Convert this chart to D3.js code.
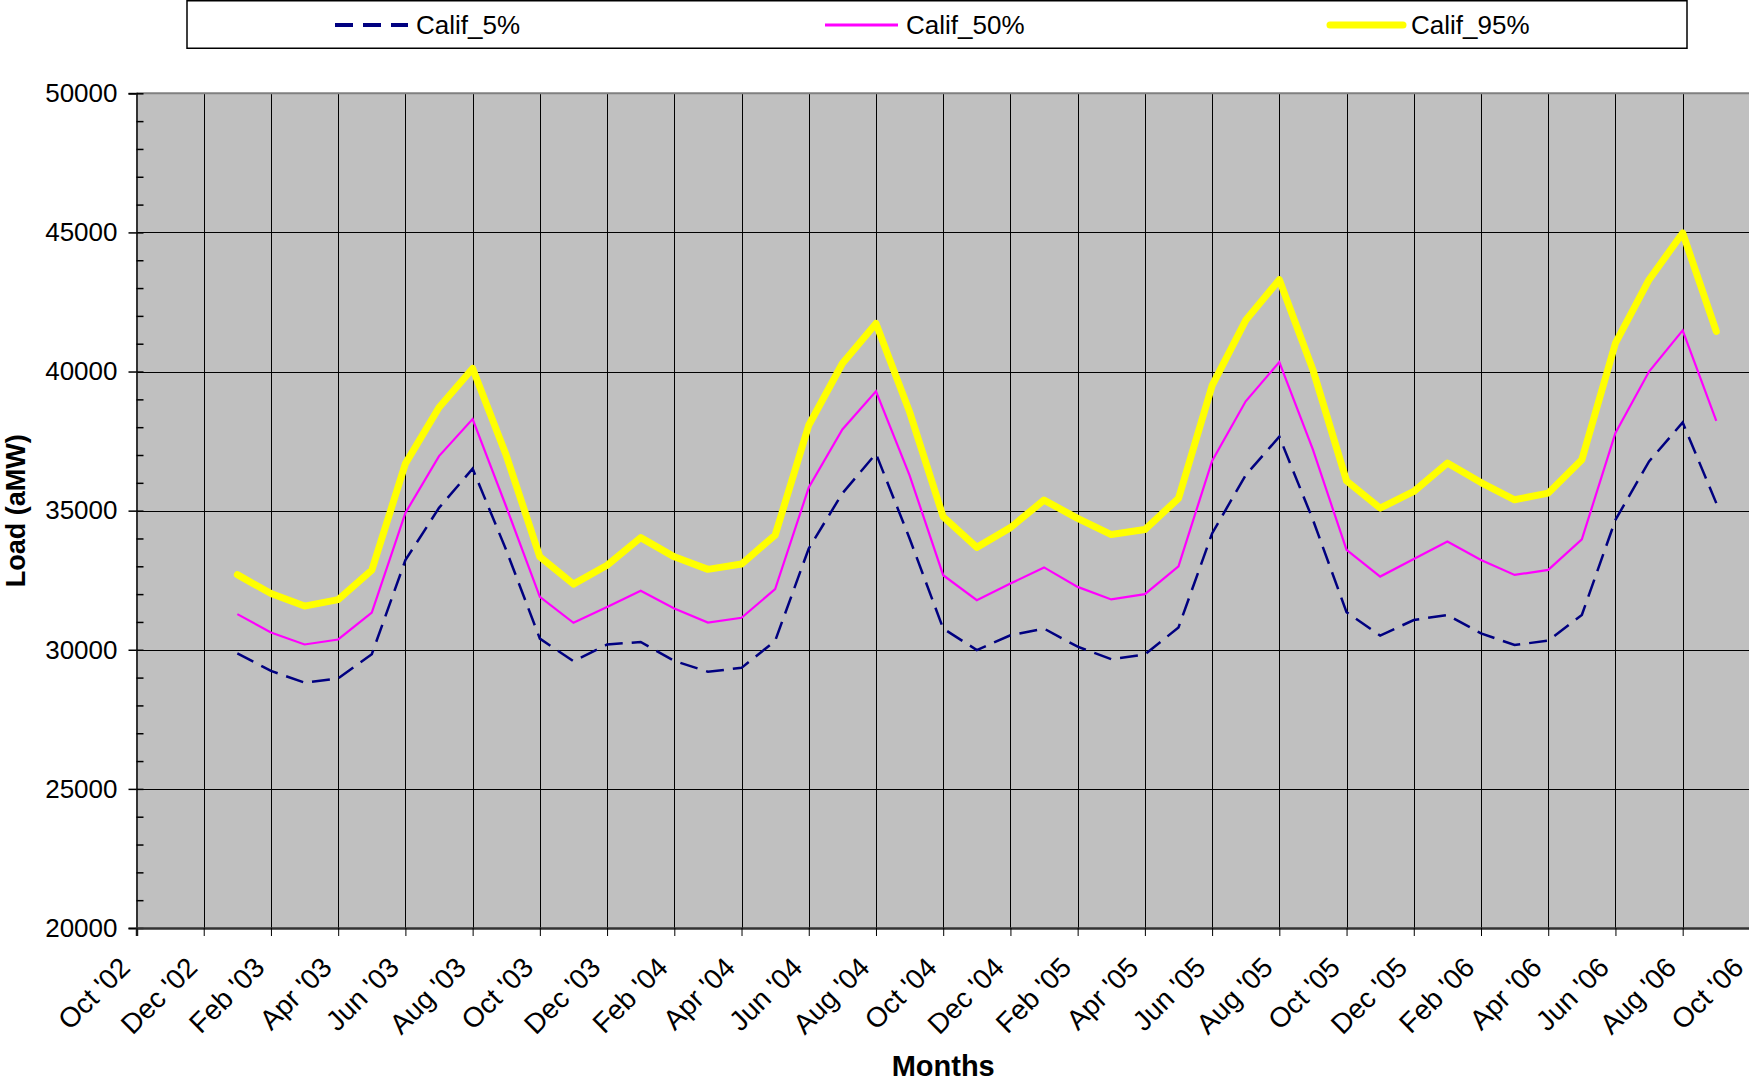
<!DOCTYPE html>
<html lang="en">
<head>
<meta charset="UTF-8">
<title>Calif load percentiles</title>
<script src="https://d3js.org/d3.v7.min.js"></script>
<style>
  body { margin: 0; background: #fff; }
  svg { display: block; font-family: "Liberation Sans", Arial, sans-serif; }
  .tick-label { font-size: 26px; fill: #000; }
  .x-label { font-size: 28px; fill: #000; }
  .axis-title { font-size: 27px; font-weight: bold; }
  .legend-text { font-size: 26px; }
</style>
</head>
<body>
<svg id="chart" width="1749" height="1081"></svg>
<script>
// monthly data, Jan '03 .. Sep '06
const months = [
  "Jan '03","Feb '03","Mar '03","Apr '03","May '03","Jun '03","Jul '03","Aug '03","Sep '03","Oct '03","Nov '03","Dec '03",
  "Jan '04","Feb '04","Mar '04","Apr '04","May '04","Jun '04","Jul '04","Aug '04","Sep '04","Oct '04","Nov '04","Dec '04",
  "Jan '05","Feb '05","Mar '05","Apr '05","May '05","Jun '05","Jul '05","Aug '05","Sep '05","Oct '05","Nov '05","Dec '05",
  "Jan '06","Feb '06","Mar '06","Apr '06","May '06","Jun '06","Jul '06","Aug '06","Sep '06"
];
const calif5 = [
  29870, 29240, 28820, 28970, 29840, 33220, 35100, 36510, 33580, 30400, 29590, 30190,
  30280, 29600, 29210, 29350, 30320, 33640, 35620, 37050, 34000, 30760, 29990, 30520,
  30760, 30110, 29660, 29830, 30800, 34180, 36280, 37660, 34670, 31350, 30510, 31070,
  31250, 30590, 30170, 30330, 31250, 34670, 36770, 38170, 35270
];
const calif50 = [
  31280, 30620, 30190, 30370, 31340, 34920, 36960, 38290, 35140, 31900, 30970, 31540,
  32120, 31480, 30980, 31150, 32180, 35830, 37920, 39290, 36270, 32680, 31780, 32380,
  32960, 32260, 31810, 32000, 33000, 36790, 38930, 40340, 37190, 33590, 32630, 33260,
  33890, 33230, 32690, 32870, 33970, 37790, 40000, 41480, 38230
];
const calif95 = [
  32700, 32020, 31570, 31800, 32860, 36690, 38710, 40110, 36990, 33340, 32360, 33040,
  34030, 33340, 32890, 33080, 34120, 38070, 40290, 41730, 38550, 34780, 33680, 34390,
  35380, 34720, 34140, 34320, 35440, 39490, 41840, 43300, 40060, 36070, 35090, 35690,
  36710, 36010, 35390, 35630, 36830, 41020, 43300, 44980, 41440
];
const tickLabels = [
  "Oct '02","Dec '02","Feb '03","Apr '03","Jun '03","Aug '03","Oct '03","Dec '03","Feb '04",
  "Apr '04","Jun '04","Aug '04","Oct '04","Dec '04","Feb '05","Apr '05","Jun '05","Aug '05",
  "Oct '05","Dec '05","Feb '06","Apr '06","Jun '06","Aug '06","Oct '06"
];
const yTicks = [20000, 25000, 30000, 35000, 40000, 45000, 50000];
const seriesNames = ["Calif_5%", "Calif_50%", "Calif_95%"];

const plotLeft = 136.5, plotRight = 1749.9, plotTop = 93.3, plotBottom = 928;

const svg = d3.select("#chart");

// every month on the category axis, Oct '02 .. Oct '06
const fmt = d3.timeFormat("%b '%y");
const axisMonths = d3.timeMonth.range(new Date(2002, 9, 1), new Date(2006, 10, 1)).map(fmt);

const x = d3.scalePoint().domain(axisMonths).range([plotLeft, plotRight]);
const y = d3.scaleLinear().domain([20000, 50000]).range([plotBottom, plotTop]);

// plot area
svg.append("rect")
  .attr("x", plotLeft).attr("y", plotTop)
  .attr("width", plotRight - plotLeft).attr("height", plotBottom - plotTop)
  .attr("fill", "#c0c0c0");

// gridlines
svg.append("g").selectAll("line")
  .data(tickLabels.slice(1))
  .join("line")
  .attr("x1", d => Math.round(x(d)) + 0.5).attr("x2", d => Math.round(x(d)) + 0.5)
  .attr("y1", plotTop).attr("y2", plotBottom)
  .attr("stroke", "#000").attr("stroke-width", 1);

svg.append("g").selectAll("line")
  .data(yTicks.slice(1, -1))
  .join("line")
  .attr("x1", plotLeft).attr("x2", plotRight)
  .attr("y1", d => Math.round(y(d)) + 0.5).attr("y2", d => Math.round(y(d)) + 0.5)
  .attr("stroke", "#000").attr("stroke-width", 1);

// top border
svg.append("line")
  .attr("x1", plotLeft).attr("x2", plotRight)
  .attr("y1", plotTop).attr("y2", plotTop)
  .attr("stroke", "#808080").attr("stroke-width", 2);

// y axis: major ticks outside, minor inside
const yAxis = svg.append("g")
  .attr("transform", `translate(${plotLeft},0)`)
  .call(d3.axisLeft(y).tickValues(yTicks).tickSize(8).tickPadding(11).tickFormat(d3.format("d")));
yAxis.attr("font-size", null).attr("font-family", null);
yAxis.selectAll("text").attr("class", "tick-label");

const yMinor = svg.append("g")
  .attr("transform", `translate(${plotLeft},0)`)
  .call(d3.axisRight(y).tickValues(d3.range(20000, 50001, 1000)).tickSize(7).tickFormat(""));
yMinor.select(".domain").remove();

yAxis.selectAll("line").attr("stroke", "#000").attr("stroke-width", 1.5);
yMinor.selectAll("line").attr("stroke", "#000").attr("stroke-width", 1.5);
yAxis.select(".domain").attr("stroke", "#333").attr("stroke-width", 2);

// x axis
const xAxis = svg.append("g")
  .attr("transform", `translate(0,${plotBottom})`)
  .call(d3.axisBottom(x).tickValues(tickLabels).tickSize(8).tickFormat(""));
xAxis.selectAll("line").attr("stroke", "#000");
xAxis.select(".domain").attr("stroke", "#333").attr("stroke-width", 2.5);

svg.append("g").selectAll("text")
  .data(tickLabels)
  .join("text")
  .attr("class", "x-label")
  .attr("transform", d => `translate(${x(d) - 19},${plotBottom + 27}) rotate(-45)`)
  .attr("text-anchor", "end")
  .attr("dy", "0.72em")
  .text(d => d);

// axis titles
svg.append("text")
  .attr("class", "axis-title")
  .attr("transform", `translate(25,${(plotTop + plotBottom) / 2}) rotate(-90)`)
  .attr("text-anchor", "middle")
  .text("Load (aMW)");

svg.append("text")
  .attr("class", "axis-title")
  .style("font-size", "29px")
  .attr("x", (plotLeft + plotRight) / 2)
  .attr("y", 1076)
  .attr("text-anchor", "middle")
  .text("Months");

// series lines
const line = d3.line()
  .x((d, i) => x(months[i]))
  .y(d => y(d));

svg.append("path").datum(calif95)
  .attr("d", line).attr("fill", "none")
  .attr("stroke", "#ffff00").attr("stroke-width", 7)
  .attr("stroke-linejoin", "round").attr("stroke-linecap", "round");

svg.append("path").datum(calif50)
  .attr("d", line).attr("fill", "none")
  .attr("stroke", "#ff00ff").attr("stroke-width", 2.2);

svg.append("path").datum(calif5)
  .attr("d", line).attr("fill", "none")
  .attr("stroke", "#000080").attr("stroke-width", 2.5)
  .attr("stroke-dasharray", "18,9");

// legend
const legend = svg.append("g");
legend.append("rect")
  .attr("x", 187).attr("y", 0.75)
  .attr("width", 1500).attr("height", 47.5)
  .attr("fill", "#fff").attr("stroke", "#000").attr("stroke-width", 1.5);

const legendX = [335, 825, 1330];
const legendStyles = [
  {color: "#000080", width: 4, dash: "18,10"},
  {color: "#ff00ff", width: 3, dash: null},
  {color: "#ffff00", width: 7, dash: null}
];
seriesNames.forEach((name, i) => {
  legend.append("line")
    .attr("x1", legendX[i]).attr("x2", legendX[i] + 73)
    .attr("y1", 25).attr("y2", 25)
    .attr("stroke", legendStyles[i].color)
    .attr("stroke-width", legendStyles[i].width)
    .attr("stroke-dasharray", legendStyles[i].dash)
    .attr("stroke-linecap", i === 2 ? "round" : "butt");
  legend.append("text")
    .attr("class", "legend-text")
    .attr("x", legendX[i] + 81).attr("y", 25)
    .attr("dy", "0.35em")
    .text(name);
});
</script>
</body>
</html>
